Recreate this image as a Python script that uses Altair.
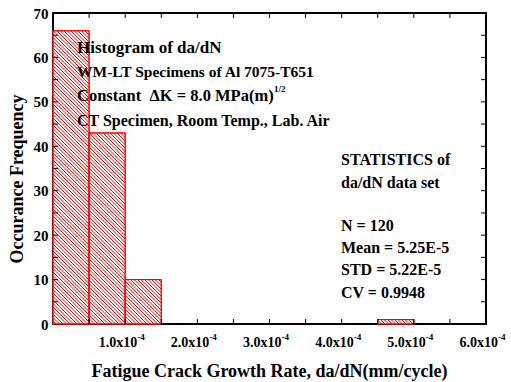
import altair as alt
import pandas as pd
import numpy as np

# ---------------- data ----------------
bin_start = [0.0, 0.5e-4, 1.0e-4, 4.5e-4]
bin_end = [0.5e-4, 1.0e-4, 1.5e-4, 5.0e-4]
counts = [66, 43, 10, 1]

x_label_values = [1e-4, 2e-4, 3e-4, 4e-4, 5e-4, 6e-4]
x_label_text = ["1.0x10", "2.0x10", "3.0x10", "4.0x10", "5.0x10", "6.0x10"]
x_label_exp = "-4"
x_tick_values = [0.5e-4, 1.0e-4, 1.5e-4, 2.0e-4, 2.5e-4, 3.0e-4, 3.5e-4,
                 4.0e-4, 4.5e-4, 5.0e-4, 5.5e-4]
y_label_values = [0, 10, 20, 30, 40, 50, 60, 70]
y_tick_values = [5, 10, 15, 20, 25, 30, 35, 40, 45, 50, 55, 60, 65]

info_lines = ["Histogram of da/dN", "WM-LT Specimens of Al 7075-T651",
              "Constant \u00a0\u0394K = 8.0 MPa(m)", "CT Specimen, Room Temp., Lab. Air"]
info_sup = "1/2"
stats_lines = ["STATISTICS of", "da/dN data set", "N = 120",
               "Mean = 5.25E-5", "STD = 5.22E-5", "CV = 0.9948"]
y_title = "Occurance Frequency"
x_title = "Fatigue Crack Growth Rate, da/dN(mm/cycle)"

# ---------------- layout ----------------
W, H = 433, 311
XMAX, YMAX = 6e-4, 70
FONT = "Liberation Serif"
RED = "#ff0000"

bars = pd.DataFrame({"x0": bin_start, "x1": bin_end, "n": counts, "b": [0] * len(counts)})

# hatch lines ("\\" direction), computed from bars through the same linear scales
def px(v): return v / XMAX * W
def py(v): return H - v / YMAX * H
def vx(p): return p / W * XMAX
def vy(p): return (H - p) / H * YMAX

SP = 3.5
rows = []
for x0, x1, c in zip(bin_start, bin_end, counts):
    a, b = px(x0), px(x1)
    t, bt = py(c), py(0)
    k0 = int(np.floor((t - b) / SP)) - 1
    k1 = int(np.ceil((bt - a) / SP)) + 1
    for k in range(k0, k1 + 1):
        cc = k * SP
        lo = max(a, t - cc)
        hi = min(b, bt - cc)
        if hi - lo > 0.4:
            rows.append({"x": vx(lo), "y": vy(lo + cc), "x2": vx(hi), "y2": vy(hi + cc)})
hatch = pd.DataFrame(rows)

xs = alt.Scale(domain=[0, XMAX], nice=False, zero=False)
ys = alt.Scale(domain=[0, YMAX], nice=False, zero=False)
AX = alt.Axis(labels=False, ticks=False, domain=False, grid=False, title=None)
AY = alt.Axis(values=y_label_values, ticks=False, domain=False, grid=False,
              labelFont=FONT, labelFontSize=15, labelFontWeight="bold", labelColor="black",
              labelPadding=5, title=None)

rect = alt.Chart(bars).mark_rect(fill="white", stroke=RED, strokeWidth=1).encode(
    x=alt.X("x0:Q", scale=xs, axis=AX), x2="x1:Q",
    y=alt.Y("n:Q", scale=ys, axis=AY), y2="b:Q")

hatch_layer = alt.Chart(hatch).mark_rule(color=RED, strokeWidth=1).encode(
    x=alt.X("x:Q", scale=xs, axis=AX), x2="x2:Q",
    y=alt.Y("y:Q", scale=ys, axis=AY), y2="y2:Q")

outline = alt.Chart(bars).mark_rect(fill=None, stroke=RED, strokeWidth=1).encode(
    x=alt.X("x0:Q", scale=xs, axis=AX), x2="x1:Q",
    y=alt.Y("n:Q", scale=ys, axis=AY), y2="b:Q")

xt = pd.DataFrame({"v": x_tick_values})
yt = pd.DataFrame({"v": y_tick_values})
TL = 5
tick_bottom = alt.Chart(xt).mark_rule(color="black", strokeWidth=1).encode(
    x=alt.X("v:Q", scale=xs, axis=AX), y=alt.value(H), y2=alt.value(H - TL))
tick_top = alt.Chart(xt).mark_rule(color="black", strokeWidth=1).encode(
    x=alt.X("v:Q", scale=xs, axis=AX), y=alt.value(0), y2=alt.value(TL))
tick_left = alt.Chart(yt).mark_rule(color="black", strokeWidth=1).encode(
    y=alt.Y("v:Q", scale=ys, axis=AY), x=alt.value(0), x2=alt.value(TL))
tick_right = alt.Chart(yt).mark_rule(color="black", strokeWidth=1).encode(
    y=alt.Y("v:Q", scale=ys, axis=AY), x=alt.value(W), x2=alt.value(W - TL))

xl = pd.DataFrame({"v": x_label_values, "t": x_label_text})
xlab = alt.Chart(xl).mark_text(font=FONT, fontSize=14, fontWeight="bold", color="black",
                               align="right", baseline="alphabetic", dx=12).encode(
    x=alt.X("v:Q", scale=xs, axis=AX), y=alt.value(334), text="t:N")
xsup = alt.Chart(xl).mark_text(font=FONT, fontSize=9, fontWeight="bold", color="black",
                               align="left", baseline="alphabetic", dx=12).encode(
    x=alt.X("v:Q", scale=xs, axis=AX), y=alt.value(327), text=alt.value(x_label_exp))


def txt(s, x, y, size, align="left", angle=0):
    return alt.Chart(pd.DataFrame({"t": [s]})).mark_text(
        font=FONT, fontSize=size, fontWeight="bold", color="black",
        align=align, baseline="alphabetic", angle=angle).encode(
        x=alt.value(x), y=alt.value(y), text="t:N")


info_y = [40, 64, 88, 113]
info_sz = [17, 15.5, 16.5, 16]
texts = [txt(s, 24, yy, sz) for s, yy, sz in zip(info_lines, info_y, info_sz)]
texts.append(txt(info_sup, 221, 79, 9))
stats_y = [152, 175, 218, 240, 262, 285]
texts += [txt(s, 288, yy, 16) for s, yy in zip(stats_lines, stats_y)]
texts.append(txt(y_title, -30, 166, 18, align="center", angle=270))
texts.append(txt(x_title, W / 2, 364, 18, align="center"))

chart = alt.layer(rect, hatch_layer, outline, tick_bottom, tick_top, tick_left, tick_right,
                  xlab, xsup, *texts).properties(
    width=W, height=H, autosize="none",
    padding={"left": 53, "top": 13, "right": 25, "bottom": 58},
    background="white",
).configure_view(stroke="black", strokeWidth=2)

chart.save("out.html", embed_options={"renderer": "svg", "actions": False})
